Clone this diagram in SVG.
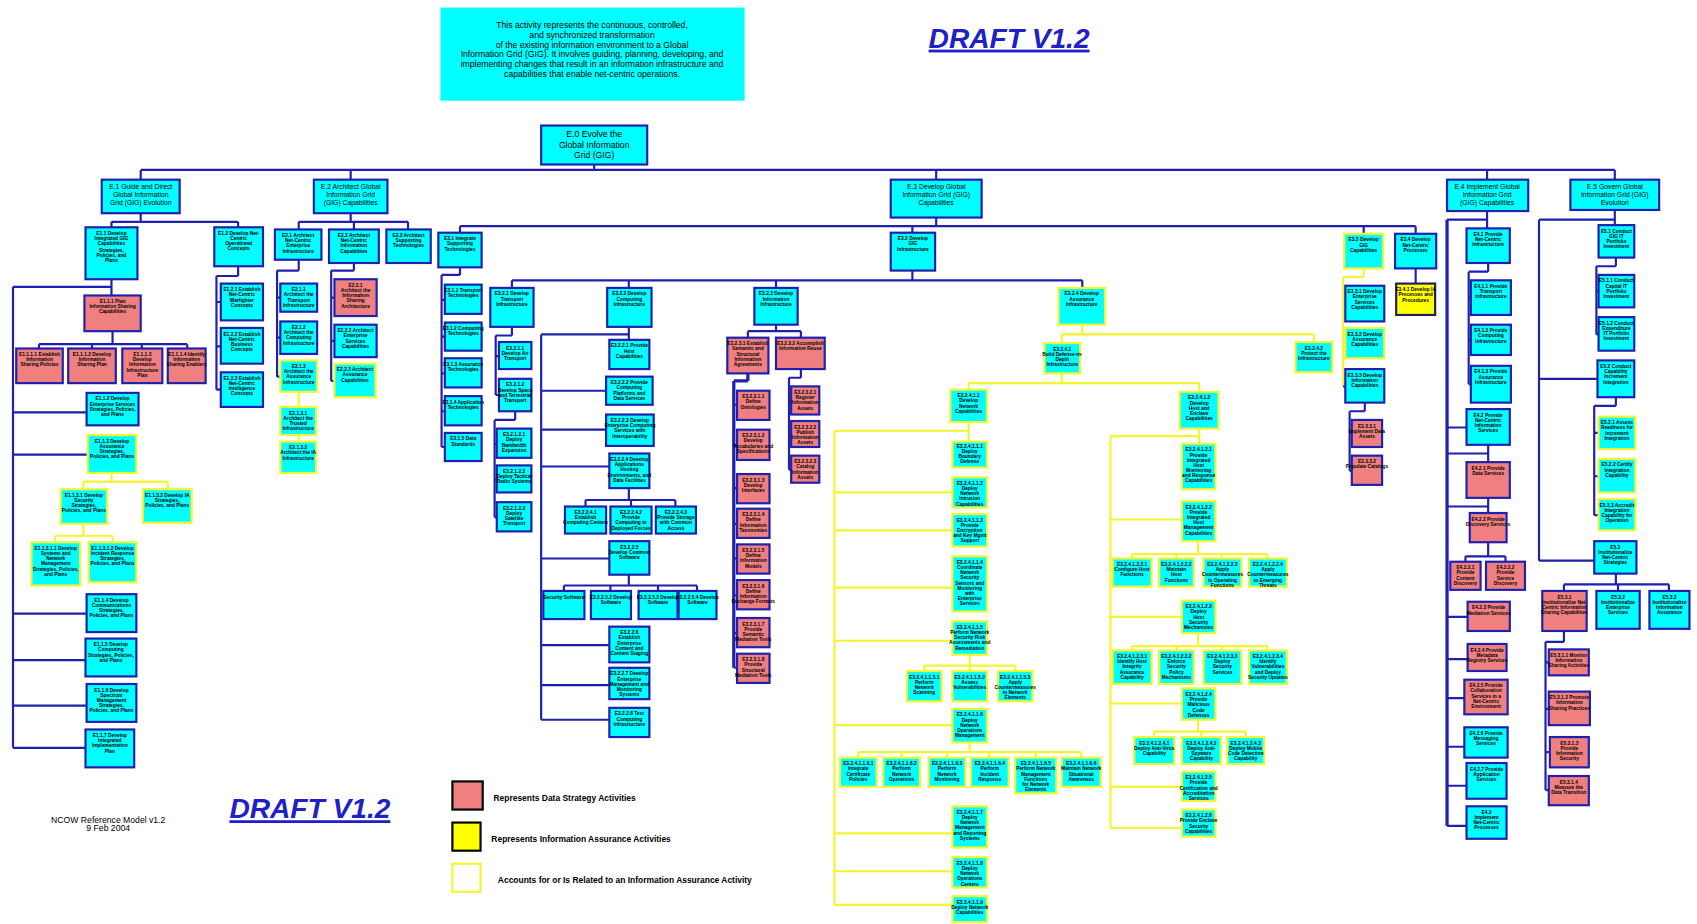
<svg xmlns="http://www.w3.org/2000/svg" width="1697" height="924" viewBox="0 0 1697 924">
<style>
rect{stroke-width:2}
.c{fill:#00FFFF;stroke:#1F1FB0}
.r{fill:#F08080;stroke:#1F1FB0}
.cy{fill:#00FFFF;stroke:#F4F430}
.y{fill:#FFFF00;stroke:#202060}
.lb{fill:none;stroke:#1F1FB0;stroke-width:2}
.lbt{fill:none;stroke:#1F1FB0;stroke-width:3}
.ly{fill:none;stroke:#F4F430;stroke-width:2}
.t{font-family:'Liberation Sans',Arial,sans-serif;font-weight:bold;font-size:4.5px;text-anchor:middle;fill:#000}
.tm{font-family:'Liberation Sans',Arial,sans-serif;font-size:6.3px;text-anchor:middle;fill:#000}
.tb{font-family:'Liberation Sans',Arial,sans-serif;font-size:8px;text-anchor:middle;fill:#000}
.d{font-family:'Liberation Sans',Arial,sans-serif;font-size:8px;text-anchor:middle;fill:#000}
.dr{font-family:'Liberation Sans',Arial,sans-serif;font-weight:bold;font-style:italic;font-size:26px;fill:#2020C8;text-decoration:underline}
.lg{font-family:'Liberation Sans',Arial,sans-serif;font-weight:bold;font-size:7.8px;fill:#000}
</style>
<rect width="1697" height="924" fill="#FFFFFF" stroke="none"/>
<g transform="scale(1.0823)">
<g id="description">
<rect x="407" y="7" width="281" height="86" fill="#00FFFF" stroke="none"/>
<text class="d" x="547" y="26"><tspan x="547" dy="0">This activity represents the continuous, controlled,</tspan><tspan x="547" dy="9">and synchronized transformation</tspan><tspan x="547" dy="9">of the existing information environment to a Global</tspan><tspan x="547" dy="9">Information Grid (GIG). It involves guiding, planning, developing, and</tspan><tspan x="547" dy="9">implementing changes that result in an information infrastructure and</tspan><tspan x="547" dy="9">capabilities that enable net-centric operations.</tspan></text>
</g>
<text class="dr" x="858" y="44">DRAFT V1.2</text>
<text class="dr" x="212" y="756">DRAFT V1.2</text>
<text class="d" x="100" y="760" font-size="7"><tspan x="100" dy="0">NCOW Reference Model v1.2</tspan><tspan x="100" dy="7.5">9 Feb 2004</tspan></text>

<g id="legend">
<rect x="418" y="722" width="28" height="26" fill="#F08080" stroke="#000"/>
<text class="lg" x="456" y="740">Represents Data Strategy Activities</text>
<rect x="418" y="760" width="26" height="26" fill="#FFFF00" stroke="#000"/>
<text class="lg" x="454" y="778">Represents Information Assurance Activities</text>
<rect x="418" y="798" width="26" height="26" fill="#FFFFFF" stroke="#F4F430"/>
<text class="lg" x="460" y="816">Accounts for or Is Related to an Information Assurance Activity</text>
</g>

<g id="connectors">
<path class="lb" d="M549 152V157M130 157H1492M130 157V166M324 157V166M865 157V166M1374 157V166M1492 157V166"/>
<path class="lb" d="M130 197V205M103 205H220M103 205V210M220 205V210"/>
<path class="lb" d="M103 258V273M12 265H103M12 265V691M12 381H80M12 420H81M12 567H80M12 610H79M12 652H80M12 691H79"/>
<path class="lb" d="M104 306V318M36 318H173M36 318V322M85 318V322M131 318V322M173 318V322"/>
<path class="ly" d="M103 437V445M77 445H155M77 445V452M155 445V452M77 484V495M51 495H104M51 495V501M104 495V501"/>
<path class="lb" d="M220 246V255M200 255H220M200 255V360M200 279H204M200 320H204M200 360H204"/>
<path class="lb" d="M324 197V205M276 205H377M276 205V212M327 205V212M377 205V212"/>
<path class="lb" d="M276 240V250M256 250H276M256 250V348M256 275H259M256 312H259M256 348H259"/>
<path class="ly" d="M276 362V376M276 402V408"/>
<path class="lb" d="M327 243V250M306 250H327M306 250V352M306 275H309M306 315H309M306 352H309"/>
<path class="lb" d="M865 201V209M425 209H1308M425 209V215M843 209V215M1260 209V216M1308 209V216"/>
<path class="lb" d="M425 247V254M408 254H425M408 254V413M408 277H411M408 311H411M408 345H411M408 380H411M408 413H411"/>
<path class="lb" d="M843 250V259M473 259H1000M473 259V266M581 259V266M717 259V266M1000 259V266"/>
<path class="lb" d="M473 302V310M458 310H473M458 310V365M458 329H461M458 365H461M476 380V388M457 388H476M457 388V478M457 410H459M457 443H459M457 478H459"/>
<path class="lb" d="M581 302V314M500 309H581M500 309V665M500 361H560M500 397H560M500 431H563M500 516H563M500 596H563M500 633H563M500 665H563"/>
<path class="lb" d="M581 451V462M541 462H624M541 462V468M583 462V468M624 462V468"/>
<path class="lb" d="M581 531V541M521 541H644M521 541V546M564 541V546M608 541V546M644 541V546"/>
<path class="lb" d="M717 300V306M691 306H740M691 306V312M740 306V312"/>
<path class="lbt" d="M691 345V352M678 352H691M678 352V617"/>
<path class="lb" d="M678 374H681M678 411H681M678 451H681M678 484H681M678 516H681M678 550H681M678 585H681M678 617H681"/>
<path class="lb" d="M740 341V349M729 349H740M729 349V434M729 370H731M729 401H731M729 434H731"/>
<path class="ly" d="M1000 300V309M981 309H1214M981 309V317M1214 309V316M981 345V354M895 354H1108M895 354V360M1108 354V362"/>
<path class="ly" d="M895 390V408M771 398H895M771 398V836M771 455H880M771 490H880M771 543H880M771 592H880M771 670H880M771 770H880M771 805H880M771 836H880"/>
<path class="ly" d="M896 605V615M854 615H938M854 615V620M896 615V620M938 615V620"/>
<path class="ly" d="M896 686V695M793 695H999M793 695V700M833 695V700M875 695V700M914 695V700M957 695V700M999 695V700"/>
<path class="ly" d="M1108 396V410M1026 403H1108M1026 403V765M1026 480H1092M1026 570H1092M1026 650H1092M1026 727H1092M1026 765H1092"/>
<path class="ly" d="M1107 500V512M1046 512H1171M1046 512V516M1087 512V516M1129 512V516M1171 512V516"/>
<path class="ly" d="M1107 585V597M1046 597H1171M1046 597V601M1087 597V601M1129 597V601M1171 597V601"/>
<path class="ly" d="M1107 665V676M1066 676H1151M1066 676V681M1110 676V681M1151 676V681"/>
<path class="ly" d="M1260 248V256M1241 256H1260M1241 256V357M1241 280H1243M1241 317H1243"/>
<path class="lb" d="M1241 357H1243M1261 372V380M1247 380H1261M1247 380V435M1247 400H1249M1247 435H1249"/>
<path class="lb" d="M1308 248V262"/>
<path class="lb" d="M1374 195V211M1337 203H1374"/>
<path class="lbt" d="M1337 203V763"/>
<path class="lb" d="M1375 243V251M1357 251H1375M1357 251V355M1357 275H1359M1357 314H1359M1357 355H1359"/>
<path class="lb" d="M1337 395H1355M1375 411V427M1337 419H1375M1375 460V474M1337 468H1375M1375 501V514M1354 514H1391M1354 514V519M1391 514V519"/>
<path class="lb" d="M1337 570H1356M1337 609H1356M1337 645H1353M1337 690H1353M1337 726H1355M1337 763H1355"/>
<path class="lb" d="M1492 194V208M1422 203H1492M1422 203V518M1422 350H1476M1422 518H1473"/>
<path class="lb" d="M1493 238V246M1475 246H1493M1475 246V309M1475 269H1477M1475 309H1477"/>
<path class="lb" d="M1493 367V375M1473 375H1493M1473 375V476M1473 400H1477M1473 440H1477M1473 476H1477"/>
<path class="lb" d="M1493 530V540M1445 540H1542M1445 540V546M1495 540V546M1542 540V546"/>
<path class="lb" d="M1445 583V593M1428 593H1445M1428 593V730M1428 612H1431M1428 655H1431M1428 695H1431M1428 730H1431"/>
</g>

<g id="E0"><rect class="c" x="500" y="116" width="98" height="36"/><text class="tb" x="549" y="127"><tspan x="549" dy="0">E.0 Evolve the</tspan><tspan x="549" dy="9.5">Global Information</tspan><tspan x="549" dy="9.5">Grid (GIG)</tspan></text></g>
<g id="E1"><rect class="c" x="94" y="166" width="72" height="31"/><text class="tm" x="130" y="175"><tspan x="130" dy="0">E.1 Guide and Direct</tspan><tspan x="130" dy="7">Global Information</tspan><tspan x="130" dy="7">Grid (GIG) Evolution</tspan></text></g>
<g id="E2"><rect class="c" x="290" y="166" width="68" height="31"/><text class="tm" x="324" y="175"><tspan x="324" dy="0">E.2 Architect Global</tspan><tspan x="324" dy="7">Information Grid</tspan><tspan x="324" dy="7">(GIG) Capabilities</tspan></text></g>
<g id="E3"><rect class="c" x="823" y="166" width="84" height="35"/><text class="tm" x="865" y="175"><tspan x="865" dy="0">E.3 Develop Global</tspan><tspan x="865" dy="7">Information Grid (GIG)</tspan><tspan x="865" dy="7">Capabilities</tspan></text></g>
<g id="E4"><rect class="c" x="1337" y="166" width="75" height="29"/><text class="tm" x="1374" y="175"><tspan x="1374" dy="0">E.4 Implement Global</tspan><tspan x="1374" dy="7">Information Grid</tspan><tspan x="1374" dy="7">(GIG) Capabilities</tspan></text></g>
<g id="E5"><rect class="c" x="1451" y="166" width="82" height="28"/><text class="tm" x="1492" y="175"><tspan x="1492" dy="0">E.5 Govern Global</tspan><tspan x="1492" dy="7">Information Grid (GIG)</tspan><tspan x="1492" dy="7">Evolution</tspan></text></g>

<g id="E1.1"><rect class="c" x="79" y="210" width="48" height="48"/><text class="t" x="103" y="217"><tspan x="103" dy="0">E1.1 Develop</tspan><tspan x="103" dy="4.8">Integrated GIG</tspan><tspan x="103" dy="4.8">Capabilities</tspan><tspan x="103" dy="6">Strategies,</tspan><tspan x="103" dy="4.8">Policies, and</tspan><tspan x="103" dy="4.8">Plans</tspan></text></g>
<g id="E1.2"><rect class="c" x="198" y="210" width="45" height="36"/><text class="t" x="220.5" y="217"><tspan x="220.5" dy="0">E1.2 Develop Net-</tspan><tspan x="220.5" dy="4.8">Centric</tspan><tspan x="220.5" dy="4.8">Operational</tspan><tspan x="220.5" dy="4.8">Concepts</tspan></text></g>
<g id="E1.1.1"><rect class="r" x="78" y="273" width="52" height="33"/><text class="t" x="104" y="280"><tspan x="104" dy="0">E1.1.1 Plan</tspan><tspan x="104" dy="4.8">Information Sharing</tspan><tspan x="104" dy="4.8">Capabilities</tspan></text></g>
<g id="E1.1.1.1"><rect class="r" x="15" y="322" width="43" height="32"/><text class="t" x="36.5" y="329"><tspan x="36.5" dy="0">E1.1.1.1 Establish</tspan><tspan x="36.5" dy="4.8">Information</tspan><tspan x="36.5" dy="4.8">Sharing Policies</tspan></text></g>
<g id="E1.1.1.2"><rect class="r" x="63" y="322" width="44" height="32"/><text class="t" x="85" y="329"><tspan x="85" dy="0">E1.1.1.2 Develop</tspan><tspan x="85" dy="4.8">Information</tspan><tspan x="85" dy="4.8">Sharing Plan</tspan></text></g>
<g id="E1.1.1.3"><rect class="r" x="113" y="322" width="37" height="32"/><text class="t" x="131.5" y="329"><tspan x="131.5" dy="0">E1.1.1.3</tspan><tspan x="131.5" dy="4.8">Develop</tspan><tspan x="131.5" dy="4.8">Information</tspan><tspan x="131.5" dy="4.8">Infrastructure</tspan><tspan x="131.5" dy="4.8">Plan</tspan></text></g>
<g id="E1.1.1.4"><rect class="r" x="155" y="322" width="35" height="32"/><text class="t" x="172.5" y="329"><tspan x="172.5" dy="0">E1.1.1.4 Identify</tspan><tspan x="172.5" dy="4.8">Information</tspan><tspan x="172.5" dy="4.8">Sharing Enablers</tspan></text></g>
<g id="E1.1.2"><rect class="c" x="80" y="363" width="48" height="30"/><text class="t" x="104" y="370"><tspan x="104" dy="0">E1.1.2 Develop</tspan><tspan x="104" dy="4.8">Enterprise Services</tspan><tspan x="104" dy="4.8">Strategies, Policies,</tspan><tspan x="104" dy="4.8">and Plans</tspan></text></g>
<g id="E1.1.3"><rect class="cy" x="81" y="402" width="45" height="35"/><text class="t" x="103.5" y="409"><tspan x="103.5" dy="0">E1.1.3 Develop</tspan><tspan x="103.5" dy="4.8">Assurance</tspan><tspan x="103.5" dy="4.8">Strategies,</tspan><tspan x="103.5" dy="4.8">Policies, and Plans</tspan></text></g>
<g id="E1.1.3.1"><rect class="cy" x="56" y="452" width="43" height="32"/><text class="t" x="77.5" y="459"><tspan x="77.5" dy="0">E1.1.3.1 Develop</tspan><tspan x="77.5" dy="4.8">Security</tspan><tspan x="77.5" dy="4.8">Strategies,</tspan><tspan x="77.5" dy="4.8">Policies, and Plans</tspan></text></g>
<g id="E1.1.3.2"><rect class="cy" x="132" y="452" width="45" height="31"/><text class="t" x="154.5" y="459"><tspan x="154.5" dy="0">E1.1.3.2 Develop IA</tspan><tspan x="154.5" dy="4.8">Strategies,</tspan><tspan x="154.5" dy="4.8">Policies, and Plans</tspan></text></g>
<g id="E1.1.3.1.1"><rect class="cy" x="29" y="501" width="45" height="40"/><text class="t" x="51.5" y="508"><tspan x="51.5" dy="0">E1.1.3.1.1 Develop</tspan><tspan x="51.5" dy="4.8">Systems and</tspan><tspan x="51.5" dy="4.8">Network</tspan><tspan x="51.5" dy="4.8">Management</tspan><tspan x="51.5" dy="4.8">Strategies, Policies,</tspan><tspan x="51.5" dy="4.8">and Plans</tspan></text></g>
<g id="E1.1.3.1.2"><rect class="cy" x="82" y="501" width="44" height="37"/><text class="t" x="104" y="508"><tspan x="104" dy="0">E1.1.3.1.2 Develop</tspan><tspan x="104" dy="4.8">Incident Response</tspan><tspan x="104" dy="4.8">Strategies,</tspan><tspan x="104" dy="4.8">Policies, and Plans</tspan></text></g>
<g id="E1.1.4"><rect class="c" x="80" y="549" width="46" height="35"/><text class="t" x="103" y="556"><tspan x="103" dy="0">E1.1.4 Develop</tspan><tspan x="103" dy="4.8">Communications</tspan><tspan x="103" dy="4.8">Strategies,</tspan><tspan x="103" dy="4.8">Policies, and Plans</tspan></text></g>
<g id="E1.1.5"><rect class="c" x="79" y="590" width="47" height="35"/><text class="t" x="102.5" y="597"><tspan x="102.5" dy="0">E1.1.5 Develop</tspan><tspan x="102.5" dy="4.8">Computing</tspan><tspan x="102.5" dy="4.8">Strategies, Policies,</tspan><tspan x="102.5" dy="4.8">and Plans</tspan></text></g>
<g id="E1.1.6"><rect class="c" x="80" y="632" width="46" height="35"/><text class="t" x="103" y="639"><tspan x="103" dy="0">E1.1.6 Develop</tspan><tspan x="103" dy="4.8">Spectrum</tspan><tspan x="103" dy="4.8">Management</tspan><tspan x="103" dy="4.8">Strategies,</tspan><tspan x="103" dy="4.8">Policies, and Plans</tspan></text></g>
<g id="E1.1.7"><rect class="c" x="79" y="674" width="45" height="35"/><text class="t" x="101.5" y="681"><tspan x="101.5" dy="0">E1.1.7 Develop</tspan><tspan x="101.5" dy="4.8">Integrated</tspan><tspan x="101.5" dy="4.8">Implementation</tspan><tspan x="101.5" dy="4.8">Plan</tspan></text></g>
<g id="E1.2.1"><rect class="c" x="204" y="262" width="39" height="34"/><text class="t" x="223.5" y="269"><tspan x="223.5" dy="0">E1.2.1 Establish</tspan><tspan x="223.5" dy="4.8">Net-Centric</tspan><tspan x="223.5" dy="4.8">Warfighter</tspan><tspan x="223.5" dy="4.8">Concepts</tspan></text></g>
<g id="E1.2.2"><rect class="c" x="204" y="303" width="39" height="33"/><text class="t" x="223.5" y="310"><tspan x="223.5" dy="0">E1.2.2 Establish</tspan><tspan x="223.5" dy="4.8">Net-Centric</tspan><tspan x="223.5" dy="4.8">Business</tspan><tspan x="223.5" dy="4.8">Concepts</tspan></text></g>
<g id="E1.2.3"><rect class="c" x="204" y="344" width="39" height="32"/><text class="t" x="223.5" y="351"><tspan x="223.5" dy="0">E1.2.3 Establish</tspan><tspan x="223.5" dy="4.8">Net-Centric</tspan><tspan x="223.5" dy="4.8">Intelligence</tspan><tspan x="223.5" dy="4.8">Concepts</tspan></text></g>

<g id="E2.1"><rect class="c" x="254" y="212" width="43" height="28"/><text class="t" x="275.5" y="219"><tspan x="275.5" dy="0">E2.1 Architect</tspan><tspan x="275.5" dy="4.8">Net-Centric</tspan><tspan x="275.5" dy="4.8">Enterprise</tspan><tspan x="275.5" dy="4.8">Infrastructure</tspan></text></g>
<g id="E2.2"><rect class="c" x="304" y="212" width="46" height="31"/><text class="t" x="327" y="219"><tspan x="327" dy="0">E2.2 Architect</tspan><tspan x="327" dy="4.8">Net-Centric</tspan><tspan x="327" dy="4.8">Information</tspan><tspan x="327" dy="4.8">Capabilities</tspan></text></g>
<g id="E2.3"><rect class="c" x="357" y="212" width="41" height="31"/><text class="t" x="377.5" y="219"><tspan x="377.5" dy="0">E2.3 Architect</tspan><tspan x="377.5" dy="4.8">Supporting</tspan><tspan x="377.5" dy="4.8">Technologies</tspan></text></g>
<g id="E2.1.1"><rect class="c" x="259" y="262" width="34" height="26"/><text class="t" x="276" y="269"><tspan x="276" dy="0">E2.1.1</tspan><tspan x="276" dy="4.8">Architect the</tspan><tspan x="276" dy="4.8">Transport</tspan><tspan x="276" dy="4.8">Infrastructure</tspan></text></g>
<g id="E2.1.2"><rect class="c" x="259" y="297" width="34" height="30"/><text class="t" x="276" y="304"><tspan x="276" dy="0">E2.1.2</tspan><tspan x="276" dy="4.8">Architect the</tspan><tspan x="276" dy="4.8">Computing</tspan><tspan x="276" dy="4.8">Infrastructure</tspan></text></g>
<g id="E2.1.3"><rect class="cy" x="259" y="333" width="34" height="29"/><text class="t" x="276" y="340"><tspan x="276" dy="0">E2.1.3</tspan><tspan x="276" dy="4.8">Architect the</tspan><tspan x="276" dy="4.8">Assurance</tspan><tspan x="276" dy="4.8">Infrastructure</tspan></text></g>
<g id="E2.1.3.1"><rect class="cy" x="259" y="376" width="33" height="26"/><text class="t" x="275.5" y="383"><tspan x="275.5" dy="0">E2.1.3.1</tspan><tspan x="275.5" dy="4.8">Architect the</tspan><tspan x="275.5" dy="4.8">Trusted</tspan><tspan x="275.5" dy="4.8">Infrastructure</tspan></text></g>
<g id="E2.1.3.2"><rect class="cy" x="259" y="408" width="33" height="29"/><text class="t" x="275.5" y="415"><tspan x="275.5" dy="0">E2.1.3.2</tspan><tspan x="275.5" dy="4.8">Architect the IA</tspan><tspan x="275.5" dy="4.8">Infrastructure</tspan></text></g>
<g id="E2.2.1"><rect class="r" x="309" y="258" width="39" height="34"/><text class="t" x="328.5" y="265"><tspan x="328.5" dy="0">E2.2.1</tspan><tspan x="328.5" dy="4.8">Architect the</tspan><tspan x="328.5" dy="4.8">Information</tspan><tspan x="328.5" dy="4.8">Sharing</tspan><tspan x="328.5" dy="4.8">Architecture</tspan></text></g>
<g id="E2.2.2"><rect class="c" x="309" y="300" width="39" height="30"/><text class="t" x="328.5" y="307"><tspan x="328.5" dy="0">E2.2.2 Architect</tspan><tspan x="328.5" dy="4.8">Enterprise</tspan><tspan x="328.5" dy="4.8">Services</tspan><tspan x="328.5" dy="4.8">Capabilities</tspan></text></g>
<g id="E2.2.3"><rect class="cy" x="309" y="336" width="38" height="31"/><text class="t" x="328" y="343"><tspan x="328" dy="0">E2.2.3 Architect</tspan><tspan x="328" dy="4.8">Assurance</tspan><tspan x="328" dy="4.8">Capabilities</tspan></text></g>

<g id="E3.1"><rect class="c" x="405" y="215" width="40" height="32"/><text class="t" x="425" y="222"><tspan x="425" dy="0">E3.1 Integrate</tspan><tspan x="425" dy="4.8">Supporting</tspan><tspan x="425" dy="4.8">Technologies</tspan></text></g>
<g id="E3.1.1"><rect class="c" x="411" y="263" width="34" height="27"/><text class="t" x="428" y="270"><tspan x="428" dy="0">E3.1.1 Transport</tspan><tspan x="428" dy="4.8">Technologies</tspan></text></g>
<g id="E3.1.2"><rect class="c" x="411" y="298" width="34" height="26"/><text class="t" x="428" y="305"><tspan x="428" dy="0">E3.1.2 Computing</tspan><tspan x="428" dy="4.8">Technologies</tspan></text></g>
<g id="E3.1.3"><rect class="c" x="411" y="331" width="34" height="27"/><text class="t" x="428" y="338"><tspan x="428" dy="0">E3.1.3 Assurance</tspan><tspan x="428" dy="4.8">Technologies</tspan></text></g>
<g id="E3.1.4"><rect class="c" x="411" y="366" width="34" height="27"/><text class="t" x="428" y="373"><tspan x="428" dy="0">E3.1.4 Application</tspan><tspan x="428" dy="4.8">Technologies</tspan></text></g>
<g id="E3.1.5"><rect class="c" x="411" y="400" width="34" height="26"/><text class="t" x="428" y="407"><tspan x="428" dy="0">E3.1.5 Data</tspan><tspan x="428" dy="4.8">Standards</tspan></text></g>
<g id="E3.2"><rect class="c" x="823" y="215" width="41" height="35"/><text class="t" x="843.5" y="222"><tspan x="843.5" dy="0">E3.2 Develop</tspan><tspan x="843.5" dy="4.8">GIG</tspan><tspan x="843.5" dy="4.8">Infrastructure</tspan></text></g>
<g id="E3.3"><rect class="cy" x="1242" y="216" width="36" height="32"/><text class="t" x="1260" y="223"><tspan x="1260" dy="0">E3.3 Develop</tspan><tspan x="1260" dy="4.8">GIG</tspan><tspan x="1260" dy="4.8">Capabilities</tspan></text></g>
<g id="E3.4"><rect class="c" x="1289" y="216" width="38" height="32"/><text class="t" x="1308" y="223"><tspan x="1308" dy="0">E3.4 Develop</tspan><tspan x="1308" dy="4.8">Net-Centric</tspan><tspan x="1308" dy="4.8">Processes</tspan></text></g>

<g id="E3.2.1"><rect class="c" x="453" y="266" width="40" height="36"/><text class="t" x="473" y="273"><tspan x="473" dy="0">E3.2.1 Develop</tspan><tspan x="473" dy="4.8">Transport</tspan><tspan x="473" dy="4.8">Infrastructure</tspan></text></g>
<g id="E3.2.2"><rect class="c" x="561" y="266" width="41" height="36"/><text class="t" x="581.5" y="273"><tspan x="581.5" dy="0">E3.2.2 Develop</tspan><tspan x="581.5" dy="4.8">Computing</tspan><tspan x="581.5" dy="4.8">Infrastructure</tspan></text></g>
<g id="E3.2.3"><rect class="c" x="697" y="266" width="40" height="34"/><text class="t" x="717" y="273"><tspan x="717" dy="0">E3.2.3 Develop</tspan><tspan x="717" dy="4.8">Information</tspan><tspan x="717" dy="4.8">Infrastructure</tspan></text></g>
<g id="E3.2.4"><rect class="cy" x="978" y="266" width="43" height="34"/><text class="t" x="999.5" y="273"><tspan x="999.5" dy="0">E3.2.4 Develop</tspan><tspan x="999.5" dy="4.8">Assurance</tspan><tspan x="999.5" dy="4.8">Infrastructure</tspan></text></g>

<g id="E3.2.1.1"><rect class="c" x="461" y="316" width="30" height="25"/><text class="t" x="476" y="323"><tspan x="476" dy="0">E3.2.1.1</tspan><tspan x="476" dy="4.8">Develop Air</tspan><tspan x="476" dy="4.8">Transport</tspan></text></g>
<g id="E3.2.1.2"><rect class="c" x="461" y="350" width="30" height="30"/><text class="t" x="476" y="357"><tspan x="476" dy="0">E3.2.1.2</tspan><tspan x="476" dy="4.8">Develop Space</tspan><tspan x="476" dy="4.8">and Terrestrial</tspan><tspan x="476" dy="4.8">Transport</tspan></text></g>
<g id="E3.2.1.2.1"><rect class="c" x="459" y="396" width="32" height="27"/><text class="t" x="475" y="403"><tspan x="475" dy="0">E3.2.1.2.1</tspan><tspan x="475" dy="4.8">Deploy</tspan><tspan x="475" dy="4.8">Bandwidth</tspan><tspan x="475" dy="4.8">Expansion</tspan></text></g>
<g id="E3.2.1.2.2"><rect class="c" x="459" y="430" width="32" height="25"/><text class="t" x="475" y="437"><tspan x="475" dy="0">E3.2.1.2.2</tspan><tspan x="475" dy="4.8">Deploy Tactical</tspan><tspan x="475" dy="4.8">Radio Systems</tspan></text></g>
<g id="E3.2.1.2.3"><rect class="c" x="459" y="464" width="32" height="27"/><text class="t" x="475" y="471"><tspan x="475" dy="0">E3.2.1.2.3</tspan><tspan x="475" dy="4.8">Deploy</tspan><tspan x="475" dy="4.8">Satellite</tspan><tspan x="475" dy="4.8">Transport</tspan></text></g>

<g id="E3.2.2.1"><rect class="c" x="563" y="314" width="37" height="27"/><text class="t" x="581.5" y="321"><tspan x="581.5" dy="0">E3.2.2.1 Provide</tspan><tspan x="581.5" dy="4.8">Host</tspan><tspan x="581.5" dy="4.8">Capabilities</tspan></text></g>
<g id="E3.2.2.2"><rect class="c" x="560" y="348" width="43" height="26"/><text class="t" x="581.5" y="355"><tspan x="581.5" dy="0">E3.2.2.2 Provide</tspan><tspan x="581.5" dy="4.8">Computing</tspan><tspan x="581.5" dy="4.8">Platforms and</tspan><tspan x="581.5" dy="4.8">Data Services</tspan></text></g>
<g id="E3.2.2.3"><rect class="c" x="560" y="383" width="44" height="29"/><text class="t" x="582" y="390"><tspan x="582" dy="0">E3.2.2.3 Develop</tspan><tspan x="582" dy="4.8">Enterprise Computing</tspan><tspan x="582" dy="4.8">Services with</tspan><tspan x="582" dy="4.8">Interoperability</tspan></text></g>
<g id="E3.2.2.4"><rect class="c" x="563" y="419" width="37" height="32"/><text class="t" x="581.5" y="426"><tspan x="581.5" dy="0">E3.2.2.4 Develop</tspan><tspan x="581.5" dy="4.8">Applications</tspan><tspan x="581.5" dy="4.8">Hosting</tspan><tspan x="581.5" dy="4.8">Environments, and</tspan><tspan x="581.5" dy="4.8">Data Facilities</tspan></text></g>
<g id="E3.2.2.4.1"><rect class="c" x="522" y="468" width="38" height="25"/><text class="t" x="541" y="475"><tspan x="541" dy="0">E3.2.2.4.1</tspan><tspan x="541" dy="4.8">Establish</tspan><tspan x="541" dy="4.8">Computing Centers</tspan></text></g>
<g id="E3.2.2.4.2"><rect class="c" x="564" y="468" width="38" height="25"/><text class="t" x="583" y="475"><tspan x="583" dy="0">E3.2.2.4.2</tspan><tspan x="583" dy="4.8">Provide</tspan><tspan x="583" dy="4.8">Computing to</tspan><tspan x="583" dy="4.8">Deployed Forces</tspan></text></g>
<g id="E3.2.2.4.3"><rect class="c" x="606" y="468" width="37" height="25"/><text class="t" x="624.5" y="475"><tspan x="624.5" dy="0">E3.2.2.4.3</tspan><tspan x="624.5" dy="4.8">Provide Storage</tspan><tspan x="624.5" dy="4.8">with Common</tspan><tspan x="624.5" dy="4.8">Access</tspan></text></g>
<g id="E3.2.2.5"><rect class="c" x="563" y="500" width="37" height="31"/><text class="t" x="581.5" y="507"><tspan x="581.5" dy="0">E3.2.2.5</tspan><tspan x="581.5" dy="4.8">Develop Common</tspan><tspan x="581.5" dy="4.8">Software</tspan></text></g>
<g id="E3.2.2.5.1"><rect class="c" x="502" y="546" width="38" height="26"/><text class="t" x="521" y="553"><tspan x="521" dy="0">Security Software</tspan></text></g>
<g id="E3.2.2.5.2"><rect class="c" x="546" y="546" width="37" height="26"/><text class="t" x="564.5" y="553"><tspan x="564.5" dy="0">E3.2.2.5.2 Develop</tspan><tspan x="564.5" dy="4.8">Software</tspan></text></g>
<g id="E3.2.2.5.3"><rect class="c" x="590" y="546" width="36" height="26"/><text class="t" x="608" y="553"><tspan x="608" dy="0">E3.2.2.5.3 Develop</tspan><tspan x="608" dy="4.8">Software</tspan></text></g>
<g id="E3.2.2.5.4"><rect class="c" x="627" y="546" width="35" height="26"/><text class="t" x="644.5" y="553"><tspan x="644.5" dy="0">E3.2.2.5.4 Develop</tspan><tspan x="644.5" dy="4.8">Software</tspan></text></g>
<g id="E3.2.2.6"><rect class="c" x="563" y="579" width="37" height="33"/><text class="t" x="581.5" y="586"><tspan x="581.5" dy="0">E3.2.2.6</tspan><tspan x="581.5" dy="4.8">Establish</tspan><tspan x="581.5" dy="4.8">Enterprise</tspan><tspan x="581.5" dy="4.8">Content and</tspan><tspan x="581.5" dy="4.8">Content Staging</tspan></text></g>
<g id="E3.2.2.7"><rect class="c" x="563" y="617" width="37" height="29"/><text class="t" x="581.5" y="624"><tspan x="581.5" dy="0">E3.2.2.7 Develop</tspan><tspan x="581.5" dy="4.8">Enterprise</tspan><tspan x="581.5" dy="4.8">Management and</tspan><tspan x="581.5" dy="4.8">Monitoring</tspan><tspan x="581.5" dy="4.8">Systems</tspan></text></g>
<g id="E3.2.2.8"><rect class="c" x="563" y="654" width="37" height="27"/><text class="t" x="581.5" y="661"><tspan x="581.5" dy="0">E3.2.2.8 Test</tspan><tspan x="581.5" dy="4.8">Computing</tspan><tspan x="581.5" dy="4.8">Infrastructure</tspan></text></g>

<g id="E3.2.3.1"><rect class="r" x="672" y="312" width="38" height="33"/><text class="t" x="691" y="319"><tspan x="691" dy="0">E3.2.3.1 Establish</tspan><tspan x="691" dy="4.8">Semantic and</tspan><tspan x="691" dy="4.8">Structural</tspan><tspan x="691" dy="4.8">Information</tspan><tspan x="691" dy="4.8">Agreements</tspan></text></g>
<g id="E3.2.3.2"><rect class="r" x="717" y="312" width="45" height="29"/><text class="t" x="739.5" y="319"><tspan x="739.5" dy="0">E3.2.3.2 Accomplish</tspan><tspan x="739.5" dy="4.8">Information Reuse</tspan></text></g>
<g id="E3.2.3.1.1"><rect class="r" x="681" y="361" width="30" height="27"/><text class="t" x="696" y="368"><tspan x="696" dy="0">E3.2.3.1.1</tspan><tspan x="696" dy="4.8">Define</tspan><tspan x="696" dy="4.8">Ontologies</tspan></text></g>
<g id="E3.2.3.1.2"><rect class="r" x="681" y="397" width="30" height="28"/><text class="t" x="696" y="404"><tspan x="696" dy="0">E3.2.3.1.2</tspan><tspan x="696" dy="4.8">Develop</tspan><tspan x="696" dy="4.8">Vocabularies and</tspan><tspan x="696" dy="4.8">Specifications</tspan></text></g>
<g id="E3.2.3.1.3"><rect class="r" x="681" y="438" width="30" height="27"/><text class="t" x="696" y="445"><tspan x="696" dy="0">E3.2.3.1.3</tspan><tspan x="696" dy="4.8">Develop</tspan><tspan x="696" dy="4.8">Interfaces</tspan></text></g>
<g id="E3.2.3.1.4"><rect class="r" x="681" y="470" width="30" height="27"/><text class="t" x="696" y="477"><tspan x="696" dy="0">E3.2.3.1.4</tspan><tspan x="696" dy="4.8">Define</tspan><tspan x="696" dy="4.8">Information</tspan><tspan x="696" dy="4.8">Taxonomies</tspan></text></g>
<g id="E3.2.3.1.5"><rect class="r" x="681" y="503" width="30" height="27"/><text class="t" x="696" y="510"><tspan x="696" dy="0">E3.2.3.1.5</tspan><tspan x="696" dy="4.8">Define</tspan><tspan x="696" dy="4.8">Information</tspan><tspan x="696" dy="4.8">Models</tspan></text></g>
<g id="E3.2.3.1.6"><rect class="r" x="681" y="536" width="30" height="27"/><text class="t" x="696" y="543"><tspan x="696" dy="0">E3.2.3.1.6</tspan><tspan x="696" dy="4.8">Define</tspan><tspan x="696" dy="4.8">Information</tspan><tspan x="696" dy="4.8">Exchange Formats</tspan></text></g>
<g id="E3.2.3.1.7"><rect class="r" x="681" y="571" width="30" height="27"/><text class="t" x="696" y="578"><tspan x="696" dy="0">E3.2.3.1.7</tspan><tspan x="696" dy="4.8">Provide</tspan><tspan x="696" dy="4.8">Semantic</tspan><tspan x="696" dy="4.8">Mediation Tools</tspan></text></g>
<g id="E3.2.3.1.8"><rect class="r" x="681" y="604" width="30" height="27"/><text class="t" x="696" y="611"><tspan x="696" dy="0">E3.2.3.1.8</tspan><tspan x="696" dy="4.8">Provide</tspan><tspan x="696" dy="4.8">Structural</tspan><tspan x="696" dy="4.8">Mediation Tools</tspan></text></g>
<g id="E3.2.3.2.1"><rect class="r" x="731" y="357" width="26" height="26"/><text class="t" x="744" y="364"><tspan x="744" dy="0">E3.2.3.2.1</tspan><tspan x="744" dy="4.8">Register</tspan><tspan x="744" dy="4.8">Information</tspan><tspan x="744" dy="4.8">Assets</tspan></text></g>
<g id="E3.2.3.2.2"><rect class="r" x="731" y="389" width="26" height="24"/><text class="t" x="744" y="396"><tspan x="744" dy="0">E3.2.3.2.2</tspan><tspan x="744" dy="4.8">Publish</tspan><tspan x="744" dy="4.8">Information</tspan><tspan x="744" dy="4.8">Assets</tspan></text></g>
<g id="E3.2.3.2.3"><rect class="r" x="731" y="421" width="26" height="25"/><text class="t" x="744" y="428"><tspan x="744" dy="0">E3.2.3.2.3</tspan><tspan x="744" dy="4.8">Catalog</tspan><tspan x="744" dy="4.8">Information</tspan><tspan x="744" dy="4.8">Assets</tspan></text></g>

<g id="E3.2.4.1"><rect class="cy" x="965" y="317" width="33" height="28"/><text class="t" x="981.5" y="324"><tspan x="981.5" dy="0">E3.2.4.1</tspan><tspan x="981.5" dy="4.8">Build Defense-in-</tspan><tspan x="981.5" dy="4.8">Depth</tspan><tspan x="981.5" dy="4.8">Infrastructure</tspan></text></g>
<g id="E3.2.4.2"><rect class="cy" x="1197" y="316" width="34" height="28"/><text class="t" x="1214" y="323"><tspan x="1214" dy="0">E3.2.4.2</tspan><tspan x="1214" dy="4.8">Protect the</tspan><tspan x="1214" dy="4.8">Infrastructure</tspan></text></g>
<g id="E3.2.4.1.1"><rect class="cy" x="878" y="360" width="34" height="30"/><text class="t" x="895" y="367"><tspan x="895" dy="0">E3.2.4.1.1</tspan><tspan x="895" dy="4.8">Develop</tspan><tspan x="895" dy="4.8">Network</tspan><tspan x="895" dy="4.8">Capabilities</tspan></text></g>
<g id="E3.2.4.1.2"><rect class="cy" x="1090" y="362" width="36" height="34"/><text class="t" x="1108" y="369"><tspan x="1108" dy="0">E3.2.4.1.2</tspan><tspan x="1108" dy="4.8">Develop</tspan><tspan x="1108" dy="4.8">Host and</tspan><tspan x="1108" dy="4.8">Enclave</tspan><tspan x="1108" dy="4.8">Capabilities</tspan></text></g>

<g id="E3.2.4.1.1.1"><rect class="cy" x="880" y="408" width="32" height="24"/><text class="t" x="896" y="414"><tspan x="896" dy="0">E3.2.4.1.1.1</tspan><tspan x="896" dy="4.6">Deploy</tspan><tspan x="896" dy="4.6">Boundary</tspan><tspan x="896" dy="4.6">Defense</tspan></text></g>
<g id="E3.2.4.1.1.2"><rect class="cy" x="880" y="441" width="32" height="28"/><text class="t" x="896" y="448"><tspan x="896" dy="0">E3.2.4.1.1.2</tspan><tspan x="896" dy="4.8">Deploy</tspan><tspan x="896" dy="4.8">Network</tspan><tspan x="896" dy="4.8">Intrusion</tspan><tspan x="896" dy="4.8">Capabilities</tspan></text></g>
<g id="E3.2.4.1.1.3"><rect class="cy" x="880" y="475" width="32" height="30"/><text class="t" x="896" y="482"><tspan x="896" dy="0">E3.2.4.1.1.3</tspan><tspan x="896" dy="4.8">Provide</tspan><tspan x="896" dy="4.8">Encryption</tspan><tspan x="896" dy="4.8">and Key Mgmt</tspan><tspan x="896" dy="4.8">Support</tspan></text></g>
<g id="E3.2.4.1.1.4"><rect class="cy" x="880" y="514" width="32" height="51"/><text class="t" x="896" y="521"><tspan x="896" dy="0">E3.2.4.1.1.4</tspan><tspan x="896" dy="4.8">Coordinate</tspan><tspan x="896" dy="4.8">Network</tspan><tspan x="896" dy="4.8">Security</tspan><tspan x="896" dy="4.8">Sensors and</tspan><tspan x="896" dy="4.8">Monitoring</tspan><tspan x="896" dy="4.8">with</tspan><tspan x="896" dy="4.8">Enterprise</tspan><tspan x="896" dy="4.8">Services</tspan></text></g>
<g id="E3.2.4.1.1.5"><rect class="cy" x="880" y="574" width="32" height="31"/><text class="t" x="896" y="581"><tspan x="896" dy="0">E3.2.4.1.1.5</tspan><tspan x="896" dy="4.8">Perform Network</tspan><tspan x="896" dy="4.8">Security Risk</tspan><tspan x="896" dy="4.8">Assessments and</tspan><tspan x="896" dy="4.8">Remediation</tspan></text></g>
<g id="E3.2.4.1.1.5.1"><rect class="cy" x="838" y="620" width="32" height="28"/><text class="t" x="854" y="627"><tspan x="854" dy="0">E3.2.4.1.1.5.1</tspan><tspan x="854" dy="4.8">Perform</tspan><tspan x="854" dy="4.8">Network</tspan><tspan x="854" dy="4.8">Scanning</tspan></text></g>
<g id="E3.2.4.1.1.5.2"><rect class="cy" x="880" y="620" width="32" height="28"/><text class="t" x="896" y="627"><tspan x="896" dy="0">E3.2.4.1.1.5.2</tspan><tspan x="896" dy="4.8">Assess</tspan><tspan x="896" dy="4.8">Vulnerabilities</tspan></text></g>
<g id="E3.2.4.1.1.5.3"><rect class="cy" x="922" y="620" width="32" height="28"/><text class="t" x="938" y="627"><tspan x="938" dy="0">E3.2.4.1.1.5.3</tspan><tspan x="938" dy="4.8">Apply</tspan><tspan x="938" dy="4.8">Countermeasures</tspan><tspan x="938" dy="4.8">to Network</tspan><tspan x="938" dy="4.8">Elements</tspan></text></g>
<g id="E3.2.4.1.1.6"><rect class="cy" x="880" y="655" width="32" height="31"/><text class="t" x="896" y="662"><tspan x="896" dy="0">E3.2.4.1.1.6</tspan><tspan x="896" dy="4.8">Deploy</tspan><tspan x="896" dy="4.8">Network</tspan><tspan x="896" dy="4.8">Operations</tspan><tspan x="896" dy="4.8">Management</tspan></text></g>
<g id="E3.2.4.1.1.6.1"><rect class="cy" x="776" y="700" width="34" height="27"/><text class="t" x="793" y="707"><tspan x="793" dy="0">E3.2.4.1.1.6.1</tspan><tspan x="793" dy="4.8">Integrate</tspan><tspan x="793" dy="4.8">Certificate</tspan><tspan x="793" dy="4.8">Policies</tspan></text></g>
<g id="E3.2.4.1.1.6.2"><rect class="cy" x="816" y="700" width="34" height="27"/><text class="t" x="833" y="707"><tspan x="833" dy="0">E3.2.4.1.1.6.2</tspan><tspan x="833" dy="4.8">Perform</tspan><tspan x="833" dy="4.8">Network</tspan><tspan x="833" dy="4.8">Operations</tspan></text></g>
<g id="E3.2.4.1.1.6.3"><rect class="cy" x="858" y="700" width="34" height="27"/><text class="t" x="875" y="707"><tspan x="875" dy="0">E3.2.4.1.1.6.3</tspan><tspan x="875" dy="4.8">Perform</tspan><tspan x="875" dy="4.8">Network</tspan><tspan x="875" dy="4.8">Monitoring</tspan></text></g>
<g id="E3.2.4.1.1.6.4"><rect class="cy" x="897" y="700" width="35" height="27"/><text class="t" x="914.5" y="707"><tspan x="914.5" dy="0">E3.2.4.1.1.6.4</tspan><tspan x="914.5" dy="4.8">Perform</tspan><tspan x="914.5" dy="4.8">Incident</tspan><tspan x="914.5" dy="4.8">Response</tspan></text></g>
<g id="E3.2.4.1.1.6.5"><rect class="cy" x="938" y="700" width="38" height="33"/><text class="t" x="957" y="707"><tspan x="957" dy="0">E3.2.4.1.1.6.5</tspan><tspan x="957" dy="4.8">Perform Network</tspan><tspan x="957" dy="4.8">Management</tspan><tspan x="957" dy="4.8">Functions</tspan><tspan x="957" dy="4.8">for Network</tspan><tspan x="957" dy="4.8">Elements</tspan></text></g>
<g id="E3.2.4.1.1.6.6"><rect class="cy" x="981" y="700" width="36" height="27"/><text class="t" x="999" y="707"><tspan x="999" dy="0">E3.2.4.1.1.6.6</tspan><tspan x="999" dy="4.8">Maintain Network</tspan><tspan x="999" dy="4.8">Situational</tspan><tspan x="999" dy="4.8">Awareness</tspan></text></g>
<g id="E3.2.4.1.1.7"><rect class="cy" x="880" y="745" width="32" height="38"/><text class="t" x="896" y="752"><tspan x="896" dy="0">E3.2.4.1.1.7</tspan><tspan x="896" dy="4.8">Deploy</tspan><tspan x="896" dy="4.8">Network</tspan><tspan x="896" dy="4.8">Management</tspan><tspan x="896" dy="4.8">and Reporting</tspan><tspan x="896" dy="4.8">Systems</tspan></text></g>
<g id="E3.2.4.1.1.8"><rect class="cy" x="880" y="792" width="32" height="28"/><text class="t" x="896" y="799"><tspan x="896" dy="0">E3.2.4.1.1.8</tspan><tspan x="896" dy="4.8">Deploy</tspan><tspan x="896" dy="4.8">Network</tspan><tspan x="896" dy="4.8">Operations</tspan><tspan x="896" dy="4.8">Centers</tspan></text></g>
<g id="E3.2.4.1.1.9"><rect class="cy" x="880" y="828" width="32" height="24"/><text class="t" x="896" y="835"><tspan x="896" dy="0">E3.2.4.1.1.9</tspan><tspan x="896" dy="4.8">Deploy Network</tspan><tspan x="896" dy="4.8">Capabilities</tspan></text></g>

<g id="E3.2.4.1.2.1"><rect class="cy" x="1092" y="410" width="31" height="42"/><text class="t" x="1107.5" y="417"><tspan x="1107.5" dy="0">E3.2.4.1.2.1</tspan><tspan x="1107.5" dy="4.8">Provide</tspan><tspan x="1107.5" dy="4.8">Integrated</tspan><tspan x="1107.5" dy="4.8">Host</tspan><tspan x="1107.5" dy="4.8">Monitoring</tspan><tspan x="1107.5" dy="4.8">and Response</tspan><tspan x="1107.5" dy="4.8">Capabilities</tspan></text></g>
<g id="E3.2.4.1.2.2"><rect class="cy" x="1092" y="463" width="31" height="37"/><text class="t" x="1107.5" y="470"><tspan x="1107.5" dy="0">E3.2.4.1.2.2</tspan><tspan x="1107.5" dy="4.8">Provide</tspan><tspan x="1107.5" dy="4.8">Integrated</tspan><tspan x="1107.5" dy="4.8">Host</tspan><tspan x="1107.5" dy="4.8">Management</tspan><tspan x="1107.5" dy="4.8">Capabilities</tspan></text></g>
<g id="E3.2.4.1.2.2.1"><rect class="cy" x="1028" y="516" width="36" height="26"/><text class="t" x="1046" y="523"><tspan x="1046" dy="0">E3.2.4.1.2.2.1</tspan><tspan x="1046" dy="4.8">Configure Host</tspan><tspan x="1046" dy="4.8">Functions</tspan></text></g>
<g id="E3.2.4.1.2.2.2"><rect class="cy" x="1071" y="516" width="32" height="26"/><text class="t" x="1087" y="523"><tspan x="1087" dy="0">E3.2.4.1.2.2.2</tspan><tspan x="1087" dy="4.8">Maintain</tspan><tspan x="1087" dy="4.8">Host</tspan><tspan x="1087" dy="4.8">Functions</tspan></text></g>
<g id="E3.2.4.1.2.2.3"><rect class="cy" x="1112" y="516" width="35" height="26"/><text class="t" x="1129.5" y="523"><tspan x="1129.5" dy="0">E3.2.4.1.2.2.3</tspan><tspan x="1129.5" dy="4.8">Apply</tspan><tspan x="1129.5" dy="4.8">Countermeasures</tspan><tspan x="1129.5" dy="4.8">to Operating</tspan><tspan x="1129.5" dy="4.8">Functions</tspan></text></g>
<g id="E3.2.4.1.2.2.4"><rect class="cy" x="1154" y="516" width="35" height="26"/><text class="t" x="1171.5" y="523"><tspan x="1171.5" dy="0">E3.2.4.1.2.2.4</tspan><tspan x="1171.5" dy="4.8">Apply</tspan><tspan x="1171.5" dy="4.8">Countermeasures</tspan><tspan x="1171.5" dy="4.8">to Emerging</tspan><tspan x="1171.5" dy="4.8">Threats</tspan></text></g>
<g id="E3.2.4.1.2.3"><rect class="cy" x="1092" y="555" width="31" height="30"/><text class="t" x="1107.5" y="562"><tspan x="1107.5" dy="0">E3.2.4.1.2.3</tspan><tspan x="1107.5" dy="4.8">Deploy</tspan><tspan x="1107.5" dy="4.8">Host</tspan><tspan x="1107.5" dy="4.8">Security</tspan><tspan x="1107.5" dy="4.8">Mechanisms</tspan></text></g>
<g id="E3.2.4.1.2.3.1"><rect class="cy" x="1028" y="601" width="36" height="31"/><text class="t" x="1046" y="608"><tspan x="1046" dy="0">E3.2.4.1.2.3.1</tspan><tspan x="1046" dy="4.8">Identify Host</tspan><tspan x="1046" dy="4.8">Integrity</tspan><tspan x="1046" dy="4.8">Assurance</tspan><tspan x="1046" dy="4.8">Capability</tspan></text></g>
<g id="E3.2.4.1.2.3.2"><rect class="cy" x="1071" y="601" width="32" height="31"/><text class="t" x="1087" y="608"><tspan x="1087" dy="0">E3.2.4.1.2.3.2</tspan><tspan x="1087" dy="4.8">Enforce</tspan><tspan x="1087" dy="4.8">Security</tspan><tspan x="1087" dy="4.8">Policy</tspan><tspan x="1087" dy="4.8">Mechanisms</tspan></text></g>
<g id="E3.2.4.1.2.3.3"><rect class="cy" x="1112" y="601" width="35" height="31"/><text class="t" x="1129.5" y="608"><tspan x="1129.5" dy="0">E3.2.4.1.2.3.3</tspan><tspan x="1129.5" dy="4.8">Deploy</tspan><tspan x="1129.5" dy="4.8">Security</tspan><tspan x="1129.5" dy="4.8">Services</tspan></text></g>
<g id="E3.2.4.1.2.3.4"><rect class="cy" x="1154" y="601" width="35" height="31"/><text class="t" x="1171.5" y="608"><tspan x="1171.5" dy="0">E3.2.4.1.2.3.4</tspan><tspan x="1171.5" dy="4.8">Identify</tspan><tspan x="1171.5" dy="4.8">Vulnerabilities</tspan><tspan x="1171.5" dy="4.8">and Deploy</tspan><tspan x="1171.5" dy="4.8">Security Updates</tspan></text></g>
<g id="E3.2.4.1.2.4"><rect class="cy" x="1092" y="636" width="31" height="29"/><text class="t" x="1107.5" y="643"><tspan x="1107.5" dy="0">E3.2.4.1.2.4</tspan><tspan x="1107.5" dy="4.8">Provide</tspan><tspan x="1107.5" dy="4.8">Malicious</tspan><tspan x="1107.5" dy="4.8">Code</tspan><tspan x="1107.5" dy="4.8">Defenses</tspan></text></g>
<g id="E3.2.4.1.2.4.1"><rect class="cy" x="1048" y="681" width="37" height="25"/><text class="t" x="1066.5" y="688"><tspan x="1066.5" dy="0">E3.2.4.1.2.4.1</tspan><tspan x="1066.5" dy="4.8">Deploy Anti-Virus</tspan><tspan x="1066.5" dy="4.8">Capability</tspan></text></g>
<g id="E3.2.4.1.2.4.2"><rect class="cy" x="1092" y="681" width="36" height="25"/><text class="t" x="1110" y="688"><tspan x="1110" dy="0">E3.2.4.1.2.4.2</tspan><tspan x="1110" dy="4.8">Deploy Anti-</tspan><tspan x="1110" dy="4.8">Spyware</tspan><tspan x="1110" dy="4.8">Capability</tspan></text></g>
<g id="E3.2.4.1.2.4.3"><rect class="cy" x="1134" y="681" width="34" height="25"/><text class="t" x="1151" y="688"><tspan x="1151" dy="0">E3.2.4.1.2.4.3</tspan><tspan x="1151" dy="4.8">Deploy Mobile</tspan><tspan x="1151" dy="4.8">Code Detection</tspan><tspan x="1151" dy="4.8">Capability</tspan></text></g>
<g id="E3.2.4.1.2.5"><rect class="cy" x="1092" y="713" width="31" height="27"/><text class="t" x="1107.5" y="720"><tspan x="1107.5" dy="0">E3.2.4.1.2.5</tspan><tspan x="1107.5" dy="4.8">Provide</tspan><tspan x="1107.5" dy="4.8">Certification and</tspan><tspan x="1107.5" dy="4.8">Accreditation</tspan><tspan x="1107.5" dy="4.8">Services</tspan></text></g>
<g id="E3.2.4.1.2.6"><rect class="cy" x="1092" y="748" width="31" height="25"/><text class="t" x="1107.5" y="755"><tspan x="1107.5" dy="0">E3.2.4.1.2.6</tspan><tspan x="1107.5" dy="4.8">Provide Enclave</tspan><tspan x="1107.5" dy="4.8">Security</tspan><tspan x="1107.5" dy="4.8">Capabilities</tspan></text></g>

<g id="E3.3.1"><rect class="c" x="1243" y="264" width="36" height="33"/><text class="t" x="1261" y="271"><tspan x="1261" dy="0">E3.3.1 Develop</tspan><tspan x="1261" dy="4.8">Enterprise</tspan><tspan x="1261" dy="4.8">Services</tspan><tspan x="1261" dy="4.8">Capabilities</tspan></text></g>
<g id="E3.3.2"><rect class="cy" x="1243" y="303" width="36" height="28"/><text class="t" x="1261" y="310"><tspan x="1261" dy="0">E3.3.2 Develop</tspan><tspan x="1261" dy="4.8">Assurance</tspan><tspan x="1261" dy="4.8">Capabilities</tspan></text></g>
<g id="E3.3.3"><rect class="c" x="1243" y="341" width="36" height="31"/><text class="t" x="1261" y="348"><tspan x="1261" dy="0">E3.3.3 Develop</tspan><tspan x="1261" dy="4.8">Information</tspan><tspan x="1261" dy="4.8">Capabilities</tspan></text></g>
<g id="E3.3.3.1"><rect class="r" x="1249" y="388" width="28" height="25"/><text class="t" x="1263" y="395"><tspan x="1263" dy="0">E3.3.3.1</tspan><tspan x="1263" dy="4.8">Implement Data</tspan><tspan x="1263" dy="4.8">Assets</tspan></text></g>
<g id="E3.3.3.2"><rect class="r" x="1249" y="421" width="28" height="27"/><text class="t" x="1263" y="428"><tspan x="1263" dy="0">E3.3.3.2</tspan><tspan x="1263" dy="4.8">Populate Catalogs</tspan></text></g>
<g id="E3.4.1"><rect class="y" x="1290" y="262" width="36" height="29"/><text class="t" x="1308" y="269"><tspan x="1308" dy="0">E3.4.1 Develop IA</tspan><tspan x="1308" dy="4.8">Processes and</tspan><tspan x="1308" dy="4.8">Procedures</tspan></text></g>

<g id="E4.1"><rect class="c" x="1355" y="211" width="40" height="32"/><text class="t" x="1375" y="218"><tspan x="1375" dy="0">E4.1 Provide</tspan><tspan x="1375" dy="4.8">Net-Centric</tspan><tspan x="1375" dy="4.8">Infrastructure</tspan></text></g>
<g id="E4.1.1"><rect class="c" x="1359" y="259" width="37" height="32"/><text class="t" x="1377.5" y="266"><tspan x="1377.5" dy="0">E4.1.1 Provide</tspan><tspan x="1377.5" dy="4.8">Transport</tspan><tspan x="1377.5" dy="4.8">Infrastructure</tspan></text></g>
<g id="E4.1.2"><rect class="c" x="1359" y="300" width="37" height="28"/><text class="t" x="1377.5" y="307"><tspan x="1377.5" dy="0">E4.1.2 Provide</tspan><tspan x="1377.5" dy="4.8">Computing</tspan><tspan x="1377.5" dy="4.8">Infrastructure</tspan></text></g>
<g id="E4.1.3"><rect class="c" x="1359" y="338" width="37" height="34"/><text class="t" x="1377.5" y="345"><tspan x="1377.5" dy="0">E4.1.3 Provide</tspan><tspan x="1377.5" dy="4.8">Assurance</tspan><tspan x="1377.5" dy="4.8">Infrastructure</tspan></text></g>
<g id="E4.2"><rect class="c" x="1355" y="378" width="40" height="33"/><text class="t" x="1375" y="385"><tspan x="1375" dy="0">E4.2 Provide</tspan><tspan x="1375" dy="4.8">Net-Centric</tspan><tspan x="1375" dy="4.8">Information</tspan><tspan x="1375" dy="4.8">Services</tspan></text></g>
<g id="E4.2.1"><rect class="r" x="1355" y="427" width="40" height="33"/><text class="t" x="1375" y="434"><tspan x="1375" dy="0">E4.2.1 Provide</tspan><tspan x="1375" dy="4.8">Data Services</tspan></text></g>
<g id="E4.2.2"><rect class="r" x="1358" y="474" width="34" height="27"/><text class="t" x="1375" y="481"><tspan x="1375" dy="0">E4.2.2 Provide</tspan><tspan x="1375" dy="4.8">Discovery Services</tspan></text></g>
<g id="E4.2.2.1"><rect class="r" x="1340" y="519" width="28" height="26"/><text class="t" x="1354" y="526"><tspan x="1354" dy="0">E4.2.2.1</tspan><tspan x="1354" dy="4.8">Provide</tspan><tspan x="1354" dy="4.8">Content</tspan><tspan x="1354" dy="4.8">Discovery</tspan></text></g>
<g id="E4.2.2.2"><rect class="r" x="1373" y="519" width="36" height="26"/><text class="t" x="1391" y="526"><tspan x="1391" dy="0">E4.2.2.2</tspan><tspan x="1391" dy="4.8">Provide</tspan><tspan x="1391" dy="4.8">Service</tspan><tspan x="1391" dy="4.8">Discovery</tspan></text></g>
<g id="E4.2.3"><rect class="r" x="1356" y="556" width="39" height="27"/><text class="t" x="1375.5" y="563"><tspan x="1375.5" dy="0">E4.2.3 Provide</tspan><tspan x="1375.5" dy="4.8">Mediation Services</tspan></text></g>
<g id="E4.2.4"><rect class="r" x="1356" y="595" width="36" height="25"/><text class="t" x="1374" y="602"><tspan x="1374" dy="0">E4.2.4 Provide</tspan><tspan x="1374" dy="4.8">Metadata</tspan><tspan x="1374" dy="4.8">Registry Services</tspan></text></g>
<g id="E4.2.5"><rect class="r" x="1353" y="628" width="40" height="32"/><text class="t" x="1373" y="635"><tspan x="1373" dy="0">E4.2.5 Provide</tspan><tspan x="1373" dy="4.8">Collaboration</tspan><tspan x="1373" dy="4.8">Services in a</tspan><tspan x="1373" dy="4.8">Net-Centric</tspan><tspan x="1373" dy="4.8">Environment</tspan></text></g>
<g id="E4.2.6"><rect class="c" x="1353" y="672" width="40" height="28"/><text class="t" x="1373" y="679"><tspan x="1373" dy="0">E4.2.6 Provide</tspan><tspan x="1373" dy="4.8">Messaging</tspan><tspan x="1373" dy="4.8">Services</tspan></text></g>
<g id="E4.2.7"><rect class="c" x="1355" y="705" width="37" height="33"/><text class="t" x="1373.5" y="712"><tspan x="1373.5" dy="0">E4.2.7 Provide</tspan><tspan x="1373.5" dy="4.8">Application</tspan><tspan x="1373.5" dy="4.8">Services</tspan></text></g>
<g id="E4.3"><rect class="c" x="1355" y="745" width="37" height="30"/><text class="t" x="1373.5" y="752"><tspan x="1373.5" dy="0">E4.3</tspan><tspan x="1373.5" dy="4.8">Implement</tspan><tspan x="1373.5" dy="4.8">Net-Centric</tspan><tspan x="1373.5" dy="4.8">Processes</tspan></text></g>

<g id="E5.1"><rect class="c" x="1477" y="208" width="33" height="30"/><text class="t" x="1493.5" y="215"><tspan x="1493.5" dy="0">E5.1 Conduct</tspan><tspan x="1493.5" dy="4.8">GIG IT</tspan><tspan x="1493.5" dy="4.8">Portfolio</tspan><tspan x="1493.5" dy="4.8">Investment</tspan></text></g>
<g id="E5.1.1"><rect class="c" x="1477" y="254" width="33" height="30"/><text class="t" x="1493.5" y="261"><tspan x="1493.5" dy="0">E5.1.1 Conduct</tspan><tspan x="1493.5" dy="4.8">Capital IT</tspan><tspan x="1493.5" dy="4.8">Portfolio</tspan><tspan x="1493.5" dy="4.8">Investment</tspan></text></g>
<g id="E5.1.2"><rect class="c" x="1477" y="293" width="33" height="31"/><text class="t" x="1493.5" y="300"><tspan x="1493.5" dy="0">E5.1.2 Conduct</tspan><tspan x="1493.5" dy="4.8">Expenditure</tspan><tspan x="1493.5" dy="4.8">IT Portfolio</tspan><tspan x="1493.5" dy="4.8">Investment</tspan></text></g>
<g id="E5.2"><rect class="c" x="1476" y="333" width="34" height="34"/><text class="t" x="1493" y="340"><tspan x="1493" dy="0">E5.2 Conduct</tspan><tspan x="1493" dy="4.8">Capability</tspan><tspan x="1493" dy="4.8">Increment</tspan><tspan x="1493" dy="4.8">Integration</tspan></text></g>
<g id="E5.2.1"><rect class="cy" x="1477" y="385" width="34" height="30"/><text class="t" x="1494" y="392"><tspan x="1494" dy="0">E5.2.1 Assess</tspan><tspan x="1494" dy="4.8">Readiness for</tspan><tspan x="1494" dy="4.8">Increment</tspan><tspan x="1494" dy="4.8">Integration</tspan></text></g>
<g id="E5.2.2"><rect class="cy" x="1477" y="424" width="34" height="31"/><text class="t" x="1494" y="431"><tspan x="1494" dy="0">E5.2.2 Certify</tspan><tspan x="1494" dy="4.8">Integration</tspan><tspan x="1494" dy="4.8">Capability</tspan></text></g>
<g id="E5.2.3"><rect class="cy" x="1477" y="461" width="34" height="29"/><text class="t" x="1494" y="468"><tspan x="1494" dy="0">E5.2.3 Accredit</tspan><tspan x="1494" dy="4.8">Integration</tspan><tspan x="1494" dy="4.8">Capability for</tspan><tspan x="1494" dy="4.8">Operation</tspan></text></g>
<g id="E5.3"><rect class="c" x="1473" y="500" width="39" height="30"/><text class="t" x="1492.5" y="507"><tspan x="1492.5" dy="0">E5.3</tspan><tspan x="1492.5" dy="4.8">Institutionalize</tspan><tspan x="1492.5" dy="4.8">Net-Centric</tspan><tspan x="1492.5" dy="4.8">Strategies</tspan></text></g>
<g id="E5.3.1"><rect class="r" x="1425" y="546" width="41" height="37"/><text class="t" x="1445.5" y="553"><tspan x="1445.5" dy="0">E5.3.1</tspan><tspan x="1445.5" dy="4.8">Institutionalize Net-</tspan><tspan x="1445.5" dy="4.8">Centric Information</tspan><tspan x="1445.5" dy="4.8">Sharing Capabilities</tspan></text></g>
<g id="E5.3.2"><rect class="c" x="1475" y="546" width="40" height="35"/><text class="t" x="1495" y="553"><tspan x="1495" dy="0">E5.3.2</tspan><tspan x="1495" dy="4.8">Institutionalize</tspan><tspan x="1495" dy="4.8">Enterprise</tspan><tspan x="1495" dy="4.8">Services</tspan></text></g>
<g id="E5.3.3"><rect class="c" x="1524" y="546" width="37" height="35"/><text class="t" x="1542.5" y="553"><tspan x="1542.5" dy="0">E5.3.3</tspan><tspan x="1542.5" dy="4.8">Institutionalize</tspan><tspan x="1542.5" dy="4.8">Information</tspan><tspan x="1542.5" dy="4.8">Assurance</tspan></text></g>
<g id="E5.3.1.1"><rect class="r" x="1431" y="600" width="37" height="24"/><text class="t" x="1449.5" y="607"><tspan x="1449.5" dy="0">E5.3.1.1 Monitor</tspan><tspan x="1449.5" dy="4.8">Information</tspan><tspan x="1449.5" dy="4.8">Sharing Activities</tspan></text></g>
<g id="E5.3.1.2"><rect class="r" x="1431" y="639" width="38" height="31"/><text class="t" x="1450" y="646"><tspan x="1450" dy="0">E5.3.1.2 Promote</tspan><tspan x="1450" dy="4.8">Information</tspan><tspan x="1450" dy="4.8">Sharing Practices</tspan></text></g>
<g id="E5.3.1.3"><rect class="r" x="1432" y="681" width="36" height="28"/><text class="t" x="1450" y="688"><tspan x="1450" dy="0">E5.3.1.3</tspan><tspan x="1450" dy="4.8">Provide</tspan><tspan x="1450" dy="4.8">Information</tspan><tspan x="1450" dy="4.8">Security</tspan></text></g>
<g id="E5.3.1.4"><rect class="r" x="1431" y="717" width="37" height="27"/><text class="t" x="1449.5" y="724"><tspan x="1449.5" dy="0">E5.3.1.4</tspan><tspan x="1449.5" dy="4.8">Measure the</tspan><tspan x="1449.5" dy="4.8">Data Transition</tspan></text></g>
</g>
</svg>
